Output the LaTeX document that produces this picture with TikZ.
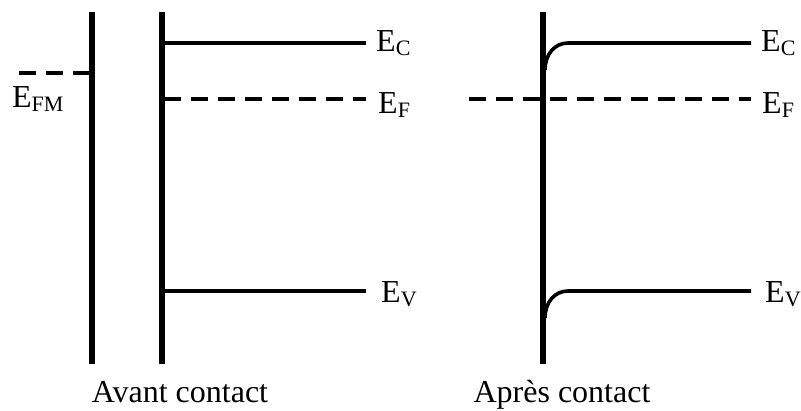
\documentclass[tikz,border=0pt]{standalone}
\usepackage{fontspec}
\setmainfont{Liberation Serif}
\newcommand{\lvl}[2]{E\raisebox{-0.15em}{\fontsize{22}{22}\selectfont #2}}
\tikzset{
  bar/.style={line width=5.5pt},
  level/.style={line width=3.6pt},
  fermi/.style={line width=3.6pt, dash pattern=on 17pt off 10pt},
  lbl/.style={anchor=base west, inner sep=0pt, font=\fontsize{32}{32}\selectfont},
  captext/.style={anchor=base, inner sep=0pt, font=\fontsize{32}{32}\selectfont}
}
\begin{document}
\begin{tikzpicture}[x=1pt,y=-1pt]
\useasboundingbox (0,0) rectangle (801,410);
% left panel
\coordinate (m1) at (92,12); \coordinate (m2) at (92,364);
\coordinate (s1) at (162,12); \coordinate (s2) at (162,364);
\draw[bar] (m1) -- (m2);
\draw[bar] (s1) -- (s2);
\coordinate (efm0) at (19,73); \coordinate (efm1) at (90,73);
\draw[fermi] (efm0) -- (efm1);
\node[lbl] (lefm) at (12,107) {\lvl{E}{FM}};
\coordinate (ec0) at (164,43); \coordinate (ec1) at (366,43);
\draw[level] (ec0) -- (ec1);
\coordinate (ef0) at (164,99); \coordinate (ef1) at (366,99);
\draw[fermi] (ef0) -- (ef1);
\coordinate (ev0) at (164,291); \coordinate (ev1) at (366,291);
\draw[level] (ev0) -- (ev1);
\node[lbl] (lec) at (376,51) {\lvl{E}{C}};
\node[lbl] (lef) at (378,113) {\lvl{E}{F}};
\node[lbl] (lev) at (381,302) {\lvl{E}{V}};
\node[captext] (avant) at (180,402) {Avant contact};
% right panel
\coordinate (r1) at (543,12); \coordinate (r2) at (543,364);
\draw[bar] (r1) -- (r2);
\coordinate (rec0) at (545,70); \coordinate (rec1) at (568,43); \coordinate (rec2) at (751,43);
\draw[level] (rec0) .. controls (545,54) and (555,43) .. (rec1) -- (rec2);
\coordinate (ref0) at (469,99); \coordinate (ref1) at (751,99);
\draw[fermi] (ref0) -- (ref1);
\coordinate (rev0) at (545,318); \coordinate (rev1) at (568,291); \coordinate (rev2) at (751,291);
\draw[level] (rev0) .. controls (545,302) and (555,291) .. (rev1) -- (rev2);
\node[lbl] (rlec) at (761,51) {\lvl{E}{C}};
\node[lbl] (rlef) at (762,113) {\lvl{E}{F}};
\node[lbl] (rlev) at (765,302) {\lvl{E}{V}};
\node[captext] (apres) at (562,402) {Après contact};
\end{tikzpicture}
\end{document}
